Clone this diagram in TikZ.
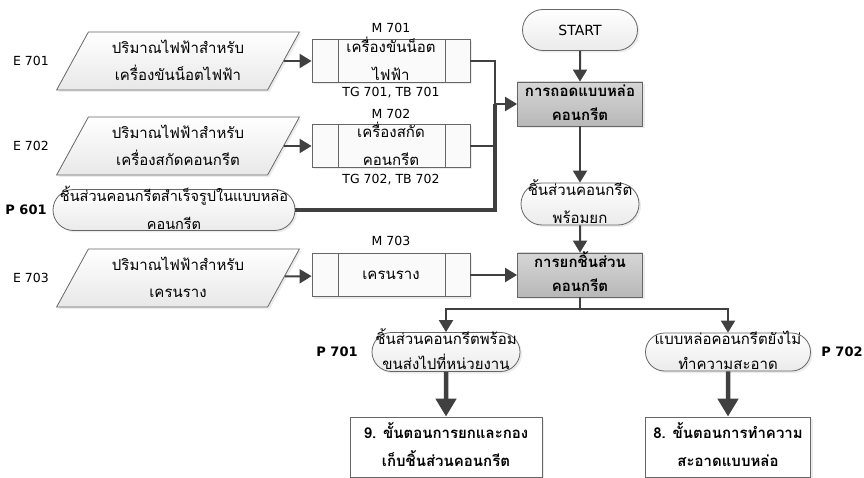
\documentclass[tikz,border=0pt]{standalone}
\usepackage{fontspec}
\setmainfont{DejaVu Sans}
\newfontfamily\thai[Script=Thai]{Loma}
\usetikzlibrary{shapes.geometric,shapes.misc,arrows.meta,shadows}

% two centred lines that do not stretch the shape around them
\newcommand{\twoln}[2]{\raisebox{-.25em}[0pt][0pt]{\begin{tabular}{@{}c@{}}#1\\#2\end{tabular}}}

\tikzset{
  base/.style={draw=black!60, line width=0.8pt, inner sep=0pt,
    font=\thai\fontsize{15}{27}\selectfont,
    drop shadow={shadow xshift=2pt, shadow yshift=-2pt, fill=black!15}},
  inbox/.style={base, trapezium, trapezium left angle=68, trapezium right angle=112,
    trapezium stretches=true, minimum width=243, minimum height=58,
    text height=29pt, text depth=29pt, top color=white, bottom color=black!9},
  procbox/.style={base, rectangle, minimum width=158, minimum height=43, fill=black!2,
    font=\thai\fontsize{15}{28}\selectfont,
    path picture={
      \draw[black!60, line width=0.8pt]
        ([xshift=26pt]path picture bounding box.north west) -- ([xshift=26pt]path picture bounding box.south west)
        ([xshift=-25pt]path picture bounding box.north east) -- ([xshift=-25pt]path picture bounding box.south east);}},
  term/.style={base, rounded rectangle, minimum height=41, top color=white, bottom color=black!8},
  stepbox/.style={base, rectangle, minimum width=125, minimum height=44,
    top color=black!16, bottom color=black!28, font=\thai\bfseries\fontsize{15}{24}\selectfont},
  endbox/.style={base, rectangle, minimum height=60, fill=white,
    font=\thai\bfseries\fontsize{15}{28}\selectfont},
  tag/.style={font=\fontsize{12.5}{14}\selectfont, inner sep=0pt},
  ptag/.style={tag, font=\bfseries\fontsize{13}{14}\selectfont},
  line/.style={draw=black!75, line width=2pt},
  thickline/.style={draw=black!75, line width=4.5pt},
  flow/.style={line, -{Triangle[length=12pt,width=14pt]}},
  thickflow/.style={thickline, -{Triangle[length=18pt,width=20pt]}}
}

\begin{document}
\begin{tikzpicture}[x=1pt, y=-1pt]
\useasboundingbox (0,0) rectangle (864,478);

% inputs on the left
\node[inbox] (e701) at (178,61) {\twoln{ปริมาณไฟฟ้าสำหรับ}{เครื่องขันน็อตไฟฟ้า}};
\node[inbox] (e702) at (178,146) {\twoln{ปริมาณไฟฟ้าสำหรับ}{เครื่องสกัดคอนกรีต}};
\node[term, minimum width=242, font=\thai\fontsize{14.5}{28}\selectfont] (p601) at (174,210)
  {\twoln{ชิ้นส่วนคอนกรีตสำเร็จรูปในแบบหล่อ}{คอนกรีต}};
\node[inbox] (e703) at (178,278) {\twoln{ปริมาณไฟฟ้าสำหรับ}{เครนราง}};

\node[tag] (e701tag) at (31,61) {E 701};
\node[tag] (e702tag) at (31,146) {E 702};
\node[ptag] (p601tag) at (26,210) {P 601};
\node[tag] (e703tag) at (31,278) {E 703};

% machines
\node[procbox] (m701) at (391,61) {\twoln{เครื่องขันน็อต}{ไฟฟ้า}};
\node[procbox] (m702) at (391,146) {\twoln{เครื่องสกัด}{คอนกรีต}};
\node[procbox] (m703) at (391,275) {เครนราง};

\node[tag] (m701tag) at (391,28) {M 701};
\node[tag] (m701tb) at (391,93) {TG 701, TB 701};
\node[tag] (m702tag) at (391,114) {M 702};
\node[tag] (m702tb) at (391,180) {TG 702, TB 702};
\node[tag] (m703tag) at (391,241) {M 703};

% main column
\node[term, minimum width=115, font=\fontsize{14}{16}\selectfont] (start) at (580,30) {START};
\node[stepbox] (strip) at (580,104) {\twoln{การถอดแบบหล่อ}{คอนกรีต}};
\node[term, minimum width=118, minimum height=42, font=\thai\fontsize{15}{28}\selectfont] (ready) at (580,204)
  {\twoln{ชิ้นส่วนคอนกรีต}{พร้อมยก}};
\node[stepbox] (lift) at (580,275) {\twoln{การยกชิ้นส่วน}{คอนกรีต}};

% outputs
\node[term, minimum width=148, minimum height=39, font=\thai\fontsize{15}{25}\selectfont] (deliver) at (446,352)
  {\twoln{ชิ้นส่วนคอนกรีตพร้อม}{ขนส่งไปที่หน่วยงาน}};
\node[term, minimum width=165, minimum height=38, font=\thai\fontsize{15}{25}\selectfont] (mould) at (728,352)
  {\twoln{แบบหล่อคอนกรีตยังไม่}{ทำความสะอาด}};
\node[ptag] (p701tag) at (337,352) {P 701};
\node[ptag] (p702tag) at (842,352) {P 702};

\node[endbox, minimum width=192] (stack) at (446,447) {\twoln{9. ขั้นตอนการยกและกอง}{เก็บชิ้นส่วนคอนกรีต}};
\node[endbox, minimum width=165] (clean) at (728,447) {\twoln{8. ขั้นตอนการทำความ}{สะอาดแบบหล่อ}};

% connectors
\coordinate (join) at (495,104);
\coordinate (split) at (580,309);

\draw[flow] (e701) -- (m701);
\draw[flow] (e702) -- (m702);
\draw[flow] (e703) -- (m703);
\draw[line] (m701.east) -| (join);
\draw[line] (m702.east) -| (join);
\draw[thickline] (p601.east) -| (join);
\draw[flow] (join) -- (strip.west);

\draw[flow] (start) -- (strip);
\draw[flow] (strip) -- (ready);
\draw[flow] (ready) -- (lift);
\draw[flow] (m703) -- (lift);

\draw[line] (lift) -- (split);
\draw[flow] (split) -| (deliver);
\draw[flow] (split) -| (mould);
\draw[thickflow] (deliver) -- (stack);
\draw[thickflow] (mould) -- (clean);
\end{tikzpicture}
\end{document}
